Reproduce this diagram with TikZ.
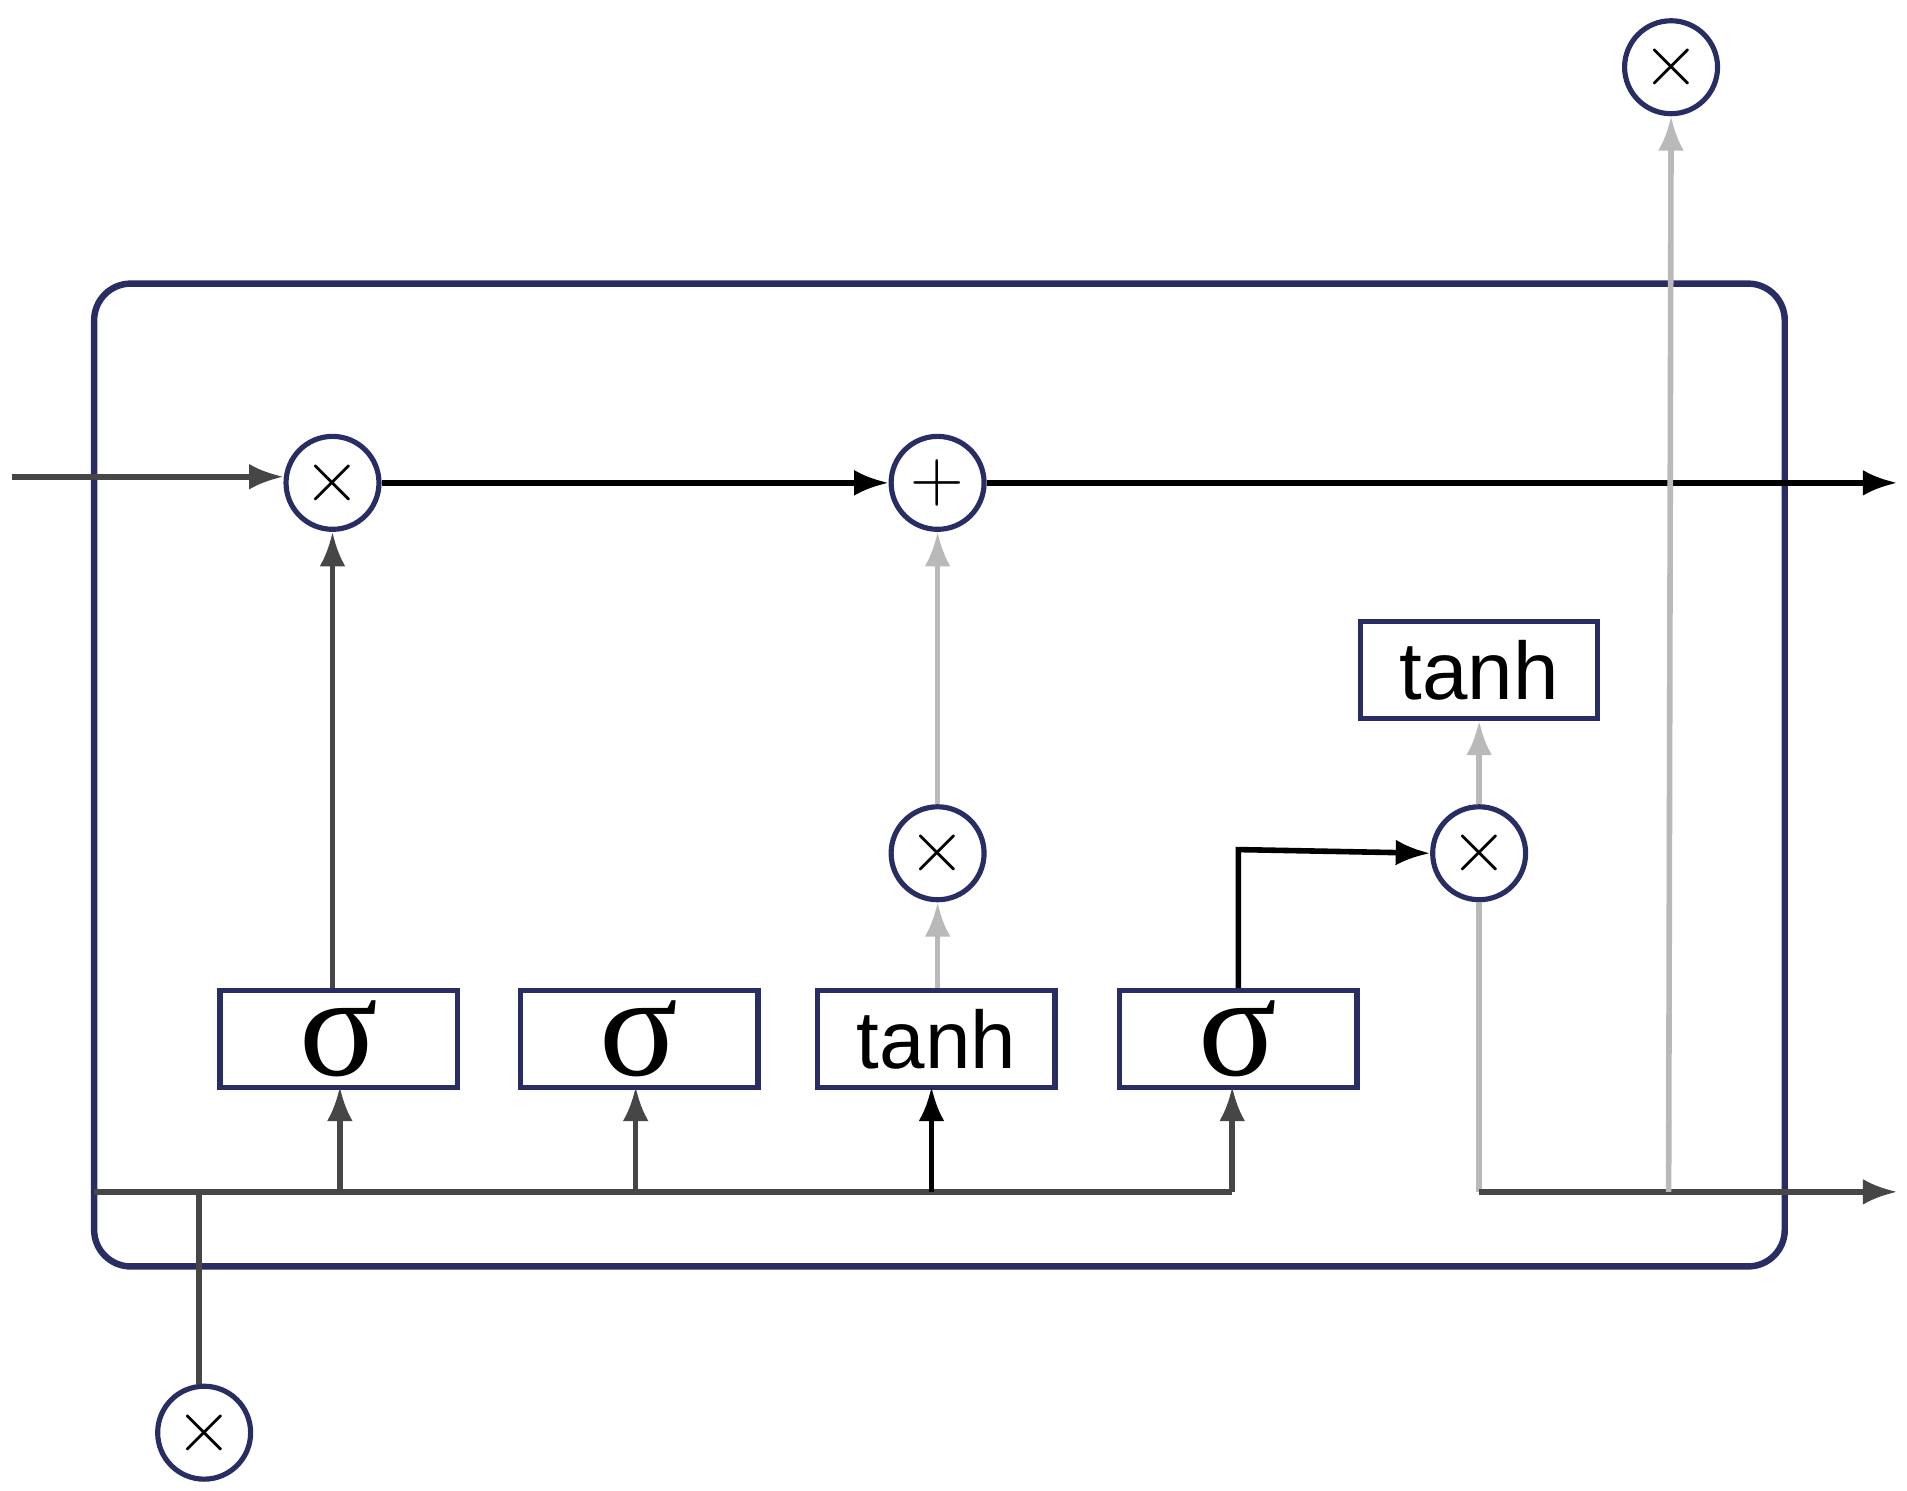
\documentclass[tikz,border=0pt]{standalone}
\usepackage{fontspec}
\setmainfont{Liberation Sans}
\newfontfamily\serifb{Liberation Serif}
\usetikzlibrary{arrows.meta}
\definecolor{navy}{RGB}{40,45,100}
\definecolor{lg}{RGB}{185,185,185}
\definecolor{dg}{RGB}{70,70,70}
\begin{document}
\begin{tikzpicture}[x=0.01cm,y=-0.01cm,
  op/.style={circle,draw=navy,line width=1.2pt,minimum size=0.76cm,inner sep=0pt,font=\fontsize{16}{18}\selectfont},
  gate/.style={draw=navy,line width=1.2pt,minimum width=1.94cm,minimum height=0.79cm,inner sep=0pt,font=\fontsize{19}{22}\selectfont},
  ar/.style={-{Latex[length=8pt,width=6pt]},line width=1.3pt},
  >=Latex]
\useasboundingbox (0,0) rectangle (1560,1219);
\draw[navy,line width=1.5pt,rounded corners=0.3cm] (77,232) rectangle (1460,1036);
\node[op] (m1) at (272,395) {$\times$};
\node[op] (p) at (767,395) {$+$};
\node[op] (m2) at (767,698) {$\times$};
\node[op] (m3) at (1210,698) {$\times$};
\node[op] (m4) at (1367,55) {$\times$};
\node[op] (m5) at (167,1172) {$\times$};
\node[gate] (s1) at (277,850) {\serifb\fontsize{34}{34}\selectfont σ};
\node[gate] (s2) at (523,850) {\serifb\fontsize{34}{34}\selectfont σ};
\node[gate] (t1) at (766,850) {tanh};
\node[gate] (s3) at (1013,850) {\serifb\fontsize{34}{34}\selectfont σ};
\node[gate] (t2) at (1210,548) {tanh};
\coordinate (in) at (10,390);
\coordinate (out1) at (1552,395);
\coordinate (out2) at (1552,975);
\coordinate (bl) at (77,975);
\coordinate (br) at (1008,975);
\draw[ar,dg] (in) -- (in -| m1.west);
\draw[ar,black] (m1) -- (p);
\draw[ar,black] (p) -- (out1);
\draw[ar,dg] (s1.north -| m1) -- (m1);
\draw[ar,lg] (t1.north -| m2) -- (m2);
\draw[ar,lg] (m2) -- (p);
\draw[ar,black] (s3.north) -- (1013,695) -- (m3.west);
\draw[ar,lg] (m3) -- (t2);
\draw[line width=1.3pt,lg] (m3.south) -- (1210,975);
\draw[ar,dg] (1210,975) -- (out2);
\draw[ar,lg] (1365,975) -- (m4.south);
\draw[line width=1.3pt,dg] (bl) -- (br);
\draw[line width=1.3pt,dg] (163,975) -- (m5.north -| 163,0);
\draw[ar,dg] (278,975) -- (278,889);
\draw[ar,dg] (520,975) -- (520,889);
\draw[ar,black] (762,975) -- (762,889);
\draw[ar,dg] (1008,975) -- (1008,889);
\end{tikzpicture}
\end{document}
